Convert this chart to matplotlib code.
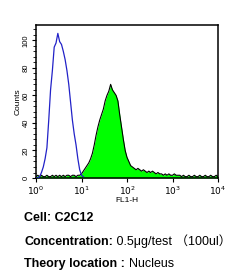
import numpy as np
import matplotlib
matplotlib.use("Agg")
import matplotlib.pyplot as plt
from matplotlib.ticker import MultipleLocator, LogLocator, NullFormatter

# channel positions (log10 of FL1-H), 0.04-decade channels
channels_log = np.linspace(0, 4, 101)

# isotype control (blue, outline)
blue_counts = [0, 0, 1, 4, 8, 14, 22, 42, 64, 78, 95, 98, 105, 99, 97, 92,
               86, 78, 68, 55, 42, 32, 24, 14, 6, 2, 1]

# stained sample (green, filled)
green_counts = [1, 2, 1, 2, 1, 1, 2, 1, 1, 2, 1, 2, 1, 2, 1, 2, 1, 2, 2, 1,
                2, 2, 1, 2, 2, 3, 5, 7, 9, 11, 14, 18, 24, 31, 37, 42, 46, 50, 56, 60,
                63, 68, 64, 62, 60, 56, 46, 37, 28, 20, 15, 12, 9, 8, 7, 6, 7, 6, 5, 6,
                5, 4, 5, 4, 5, 4, 3, 4, 3, 3, 2, 3, 2, 3, 2, 2, 3, 2, 2, 2,
                1, 2, 1, 1, 2, 1, 1, 2, 1, 1, 2, 1, 1, 2, 1, 1, 2, 1, 1, 2, 1]

yticks = [0, 20, 40, 60, 80, 100]
xtick_labels = ["$10^{0}$", "$10^{1}$", "$10^{2}$", "$10^{3}$", "$10^{4}$"]

plt.rcParams['font.family'] = ['Liberation Sans', 'Noto Sans CJK SC', 'DejaVu Sans']

fig = plt.figure(figsize=(2.5, 2.76), dpi=100)
ax = fig.add_axes([0.144, 0.355, 0.728, 0.554])

gx = 10 ** channels_log[:len(green_counts)]
bx = 10 ** channels_log[:len(blue_counts)]
ax.fill_between(gx, 0, green_counts, color='#00ff00', linewidth=0, zorder=2)
ax.plot(gx, green_counts, color='black', linewidth=0.8, zorder=3)
ax.plot(bx, blue_counts, color='#2222c8', linewidth=0.9, zorder=4)

ax.set_xscale('log')
ax.set_xlim(1, 10000)
ax.set_ylim(0, 111)
ax.set_xticks([1, 10, 100, 1000, 10000])
ax.set_xticklabels(xtick_labels, fontsize=6.5)
ax.xaxis.set_minor_locator(LogLocator(base=10, subs=np.arange(2, 10)))
ax.xaxis.set_minor_formatter(NullFormatter())
ax.set_yticks(yticks)
ax.set_yticklabels([str(v) for v in yticks], fontsize=5.5, rotation=90, va='center')
ax.yaxis.set_minor_locator(MultipleLocator(4))
ax.tick_params(which='major', length=3, width=0.8, pad=1.5, direction='out')
ax.tick_params(which='minor', length=2, width=0.6, direction='out')
for s in ax.spines.values():
    s.set_linewidth(1.1)
ax.set_ylabel("Counts", fontsize=6, labelpad=1)
ax.set_xlabel("FL1-H", fontsize=6, labelpad=0)

# annotations below the plot
x0 = 0.097
fig.text(x0, 0.21, "Cell: C2C12", fontsize=9, fontweight='bold', va='center')
t1 = fig.text(x0, 0.122, "Concentration:", fontsize=9, fontweight='bold', va='center')
ax.annotate(" 0.5μg/test （100ul）", xy=(1, 0), xycoords=t1, fontsize=9,
            ha='left', va='bottom')
t2 = fig.text(x0, 0.043, "Theory location : ", fontsize=9, fontweight='bold', va='center')
ax.annotate("Nucleus", xy=(1, 0), xycoords=t2, fontsize=9, ha='left', va='bottom')

fig.savefig("out.png", dpi=100)
